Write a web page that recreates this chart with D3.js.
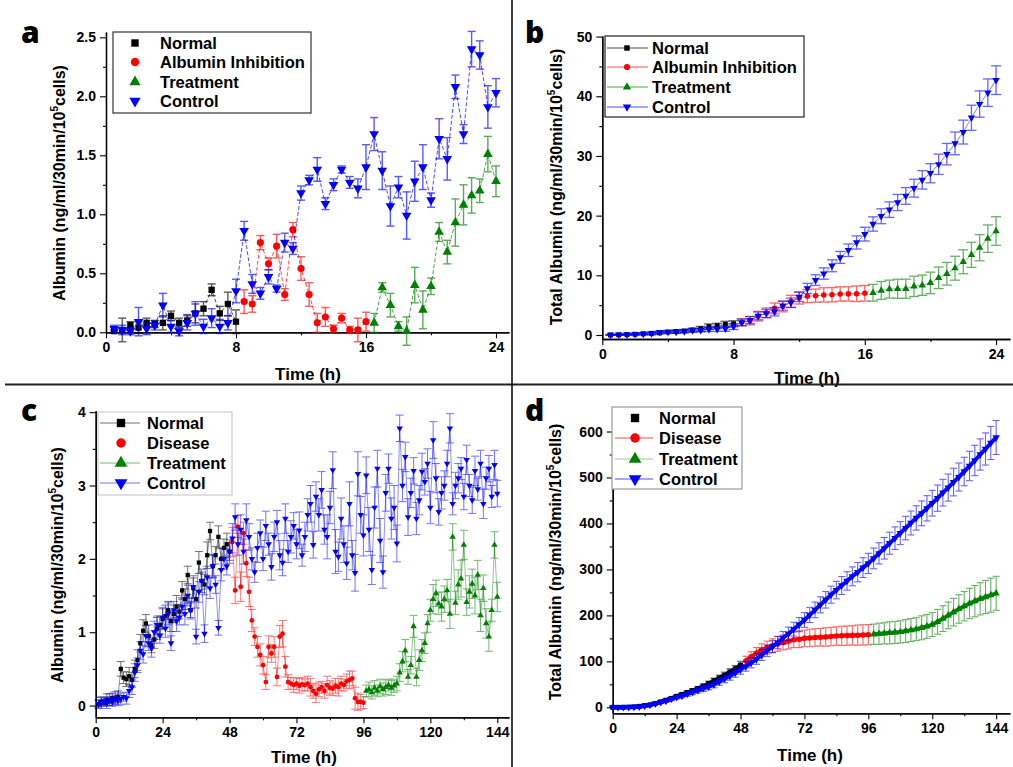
<!DOCTYPE html>
<html>
<head>
<meta charset="utf-8">
<script src="https://cdn.jsdelivr.net/npm/d3@7"></script>
<style>
  body { margin: 0; background: #fff; }
  text { font-family: "Liberation Sans", Arial, sans-serif; font-weight: bold; }
</style>
</head>
<body>
<script>

// ---------- panel a : albumin per 30 min, 0-24 h ----------
var aNormal     = [0.01,0.02,0.06,0.04,0.08,0.07,0.08,0.14,0.08,0.10,0.16,0.20,0.36,0.16,0.24,0.09],
    aNormalErr  = [0.01,0.10,0.03,0.05,0.04,0.03,0.06,0.04,0.04,0.05,0.08,0.06,0.05,0.06,0.10,0.10],
    aInhib      = [0.26,0.24,0.76,0.58,0.73,0.32,0.87,0.54,0.32,0.08,0.13,0.03,0.12,0.02,0.02,0.09],
    aInhibErr   = [0.10,0.07,0.06,0.05,0.10,0.05,0.06,0.10,0.10,0.08,0.08,0.03,0.04,0.03,0.10,0.08],
    aTreat      = [0.08,0.38,0.23,0.05,0.01,0.40,0.19,0.39,0.85,0.68,0.93,1.08,1.16,1.20,1.51,1.28],
    aTreatErr   = [0.08,0.04,0.10,0.04,0.12,0.15,0.16,0.07,0.08,0.10,0.20,0.17,0.15,0.10,0.15,0.13],
    aControl    = [0.03,0.02,0.01,0.09,0.03,0.06,0.23,0.05,0.01,0.08,0.16,0.05,0.12,0.05,0.08,0.35,
                   0.86,0.41,0.33,0.47,0.37,0.76,0.71,1.18,1.29,1.38,1.09,1.25,1.38,1.27,1.22,1.40,
                   1.68,1.37,1.07,1.23,0.99,1.28,1.40,1.12,1.64,1.47,2.08,1.68,2.40,2.35,1.91,2.03],
    aControlErr = [0.03,0.04,0.03,0.12,0.05,0.04,0.10,0.05,0.04,0.06,0.10,0.06,0.08,0.06,0.06,0.10,
                   0.08,0.08,0.05,0.06,0.03,0.08,0.05,0.06,0.04,0.10,0.05,0.05,0.03,0.05,0.08,0.19,
                   0.14,0.16,0.17,0.09,0.20,0.17,0.19,0.06,0.17,0.18,0.10,0.08,0.15,0.12,0.18,0.12];

// ---------- panel b : cumulative albumin, 0-24 h ----------
var bNormal     = [0.01,0.03,0.09,0.13,0.21,0.28,0.36,0.50,0.58,0.68,0.84,1.04,1.40,1.56,1.80,1.89],
    bNormalErr  = [0.05,0.10,0.10,0.15,0.15,0.20,0.20,0.20,0.25,0.25,0.30,0.40,0.45,0.40,0.50,0.50],
    bInhib      = [2.15,2.39,3.15,3.73,4.46,4.78,5.65,6.19,6.51,6.59,6.72,6.75,6.87,6.89,6.91,7.00],
    bInhibErr   = [0.6,0.7,0.8,0.8,0.9,0.9,1.0,1.0,1.1,1.1,1.2,1.2,1.2,1.2,1.3,1.3],
    bTreat      = [7.08,7.46,7.69,7.74,7.75,8.15,8.34,8.73,9.58,10.26,11.19,12.27,13.43,14.63,16.14,17.42],
    bTreatErr   = [1.4,1.5,1.5,1.6,1.6,1.7,1.7,1.8,1.8,1.9,2.0,2.0,2.1,2.2,2.3,2.4],
    bControl    = [0.02,0.04,0.06,0.15,0.18,0.24,0.47,0.52,0.53,0.61,0.77,0.82,0.94,0.99,1.07,1.42,
                   2.1,2.5,3.2,3.6,3.9,4.9,5.4,6.4,7.8,9.2,10.3,11.6,13.0,14.2,15.5,16.9,
                   18.6,19.9,21.0,22.2,23.3,24.6,26.0,27.1,28.6,30.3,32.1,34.0,36.4,38.7,40.6,42.7],
    bControlErr = [0.05,0.05,0.1,0.1,0.15,0.2,0.2,0.2,0.25,0.25,0.3,0.3,0.35,0.4,0.45,0.5,
                   0.55,0.6,0.65,0.7,0.7,0.75,0.8,0.8,0.85,0.9,0.95,1.0,1.0,1.05,1.1,1.15,
                   1.2,1.25,1.3,1.35,1.4,1.5,1.55,1.6,1.7,1.8,1.9,2.0,2.1,2.2,2.3,2.4];

// ---------- panel c : albumin per 30 min, 0-144 h (hourly) ----------
var cNormal     = [0.02,0.05,0.04,0.08,0.06,0.10,0.08,0.12,0.50,0.38,0.36,0.40,0.35,0.50,0.62,0.85,
                   1.02,1.12,0.95,0.82,0.90,1.05,1.10,1.18,1.22,1.30,1.15,1.25,1.35,1.28,1.57,1.45,
                   1.78,1.30,1.60,1.45,1.95,1.70,1.65,2.05,2.38,1.90,2.05,2.30,2.00,2.15,2.20,2.10],
    cNormalErr  = [0.05,0.06,0.05,0.08,0.06,0.07,0.06,0.08,0.10,0.08,0.10,0.12,0.10,0.12,0.14,0.12,
                   0.15,0.12,0.15,0.10,0.12,0.15,0.12,0.14,0.15,0.12,0.14,0.12,0.15,0.10,0.12,0.14,
                   0.12,0.10,0.14,0.12,0.15,0.12,0.14,0.18,0.12,0.15,0.12,0.15,0.14,0.12,0.15,0.12],
    cDisease    = [2.23,1.57,2.44,1.62,2.35,1.94,1.55,1.16,0.94,0.80,0.69,0.55,0.32,0.80,0.71,0.80,
                   0.39,0.94,0.98,0.53,0.32,0.30,0.28,0.30,0.27,0.29,0.28,0.30,0.25,0.20,0.16,0.22,
                   0.25,0.20,0.28,0.24,0.23,0.27,0.25,0.30,0.28,0.33,0.35,0.37,0.10,0.05,0.05,0.04],
    cDiseaseErr = [0.20,0.18,0.15,0.20,0.15,0.18,0.20,0.15,0.12,0.14,0.15,0.12,0.10,0.15,0.12,0.14,
                   0.12,0.15,0.18,0.14,0.10,0.08,0.10,0.08,0.10,0.09,0.08,0.10,0.12,0.10,0.12,0.10,
                   0.08,0.10,0.12,0.10,0.09,0.10,0.12,0.10,0.08,0.10,0.12,0.10,0.15,0.12,0.10,0.08],
    cTreat      = [0.20,0.22,0.18,0.24,0.20,0.26,0.22,0.25,0.28,0.24,0.27,0.30,0.45,0.60,0.75,0.39,
                   0.55,1.08,0.39,0.62,0.75,0.85,1.12,1.30,1.45,1.53,1.39,1.35,1.45,1.57,1.25,2.30,
                   1.40,1.65,1.73,2.19,1.41,1.55,1.66,1.50,1.78,1.23,1.60,1.12,0.94,1.30,2.19,1.48],
    cTreatErr   = [0.08,0.10,0.09,0.10,0.08,0.10,0.09,0.10,0.08,0.10,0.09,0.10,0.12,0.14,0.15,0.10,
                   0.12,0.15,0.12,0.14,0.15,0.14,0.12,0.15,0.20,0.18,0.15,0.20,0.18,0.15,0.20,0.18,
                   0.16,0.20,0.25,0.20,0.18,0.22,0.20,0.25,0.20,0.22,0.18,0.20,0.20,0.15,0.18,0.20],
    cControl    = [0.02,0.04,0.06,0.03,0.08,0.05,0.10,0.07,0.09,0.12,0.10,0.20,0.25,0.45,0.55,0.75,
                   0.70,0.95,0.85,0.78,1.00,1.10,0.95,1.20,1.05,1.25,0.85,1.30,1.15,1.20,1.35,1.25,
                   1.50,1.30,1.62,0.94,1.55,1.70,0.98,1.75,1.60,1.90,1.65,1.06,1.85,2.00,1.90,2.10,
                   2.28,2.57,2.20,2.40,2.10,2.53,2.30,2.00,1.82,2.15,2.35,2.00,2.45,2.20,1.89,2.30,
                   2.50,2.05,1.95,2.55,2.10,2.30,2.45,2.20,2.39,2.05,2.30,2.60,2.75,2.19,2.85,2.60,
                   2.94,2.40,2.30,2.70,3.21,2.10,2.03,2.55,2.20,1.94,2.75,2.05,1.81,3.16,2.60,2.32,
                   3.14,2.40,1.85,2.70,3.23,2.25,1.82,2.90,3.23,2.55,2.70,2.21,3.78,3.00,3.39,2.57,
                   2.90,3.20,2.55,2.80,3.19,3.05,3.30,2.70,3.62,3.10,2.64,2.90,3.00,3.30,3.78,2.75,
                   3.00,3.10,3.23,2.85,3.35,3.00,2.80,3.20,2.95,3.30,2.75,3.10,3.23,2.85,3.28,2.89],
    cControlErr = [0.06,0.08,0.06,0.07,0.08,0.06,0.09,0.07,0.08,0.06,0.08,0.09,0.10,0.12,0.10,0.12,
                   0.12,0.14,0.10,0.12,0.15,0.12,0.10,0.14,0.12,0.15,0.10,0.12,0.14,0.10,0.12,0.15,
                   0.14,0.12,0.15,0.10,0.14,0.16,0.12,0.15,0.14,0.16,0.12,0.10,0.15,0.14,0.12,0.16,
                   0.20,0.18,0.15,0.20,0.17,0.22,0.18,0.15,0.14,0.20,0.18,0.16,0.20,0.15,0.18,0.20,
                   0.16,0.20,0.18,0.20,0.15,0.22,0.18,0.20,0.25,0.15,0.20,0.22,0.25,0.18,0.20,0.22,
                   0.25,0.20,0.30,0.22,0.25,0.30,0.20,0.28,0.25,0.22,0.30,0.20,0.25,0.30,0.25,0.28,
                   0.25,0.30,0.20,0.28,0.25,0.30,0.22,0.25,0.20,0.28,0.30,0.25,0.18,0.22,0.20,0.25,
                   0.20,0.18,0.22,0.20,0.25,0.18,0.20,0.22,0.25,0.20,0.18,0.22,0.20,0.18,0.20,0.15,
                   0.18,0.20,0.15,0.18,0.20,0.15,0.18,0.20,0.15,0.18,0.20,0.15,0.18,0.15,0.20,0.18];

// ---------- panel d : cumulative albumin, 0-144 h (every 2 h) ----------
var dNormal     = [0,0.1,0.3,0.6,1.0,2.2,3.8,5.6,8.5,12,15.5,19.5,24,28,32,36.5,41,46,52,58,64,70,77,84,92],
    dNormalErr  = [0,0.1,0.2,0.3,0.5,0.8,1,1.2,1.5,2,2.5,3,3,3.5,4,4,4.5,5,5,5.5,6,6.5,7,7,8],
    dDisease    = [101,110,118,125,130,134,138,141,144,147,148,150,151,152,152.5,153,154,155,155.5,156,156.5,157,157.5,158],
    dDiseaseErr = [10,11,12,13,14,15,16,16,17,17,18,18,19,19,19,20,20,20,21,21,21,22,22,22],
    dTreat      = [159,160,161,162,163,164,166,168,170,173,176,180,186,193,200,207,214,220,226,231,236,240,244,248],
    dTreatErr   = [22,23,23,24,24,24,25,25,25,26,26,26,27,28,29,30,31,32,33,34,35,36,37,37],
    dControl    = [0,0.1,0.3,0.5,0.8,1.5,3,5,8,11,14,18,
                   22,25,29,33,37,41,45,50,56,62,68,75,
                   82,89,97,105,114,123,132,141,151,160,170,180,
                   190,201,212,223,234,245,255,265,275,285,294,304,
                   313,324,335,346,357,368,379,390,401,412,422,433,
                   444,455,467,478,490,501,513,525,537,550,562,575,587],
    dControlErr = [0,0.1,0.2,0.3,0.4,0.6,1,1.5,2,2.5,3,3.5,
                   4,4.5,5,5.5,6,6.5,7,7.5,8,8.5,9,9.5,
                   10,10.5,11,11.5,12,12.5,13,13.5,14,14.5,15,15.5,
                   16,16.5,17,17.5,18,18.5,19,19.5,20,20.5,21,21.5,
                   22,22.5,23,23.5,24,24.5,25,25.5,26,26.5,27,27.5,
                   28,28.5,29,29.5,30,30.5,31,32,33,34,35,36,37];

var labelsAB = ["Normal", "Albumin Inhibition", "Treatment", "Control"],
    labelsCD = ["Normal", "Disease", "Treatment", "Control"],
    colors   = ["#000000", "#ff0000", "#008000", "#0000ff"];


var svg = d3.select("body").append("svg")
            .attr("width", 1013)
            .attr("height", 767);


var symTypes = [d3.symbolSquare, d3.symbolCircle, d3.symbolTriangle, d3.symbolTriangle];

function marker(sel, k, size) {
    sel.attr("d", d3.symbol().type(symTypes[k]).size(size)());
}


function panel(p) {

    var g = svg.append("g"),
        x = d3.scaleLinear().domain(p.xDom).range(p.xRange),
        y = d3.scaleLinear().domain(p.yDom).range(p.yRange);

    // minor ticks
    g.append("g")
        .attr("transform", "translate(0," + p.yRange[0] + ")")
        .call(d3.axisBottom(x).tickValues(p.xMinor).tickSize(3).tickSizeOuter(0).tickFormat(""));
    g.append("g")
        .attr("transform", "translate(" + p.xRange[0] + ",0)")
        .call(d3.axisLeft(y).tickValues(p.yMinor).tickSize(3).tickSizeOuter(0).tickFormat(""));

    // major ticks + labels
    var xa = g.append("g")
        .attr("transform", "translate(0," + p.yRange[0] + ")")
        .call(d3.axisBottom(x).tickValues(p.xMajor).tickSize(6).tickSizeOuter(0).tickPadding(4).tickFormat(d3.format("d")));
    var ya = g.append("g")
        .attr("transform", "translate(" + p.xRange[0] + ",0)")
        .call(d3.axisLeft(y).tickValues(p.yMajor).tickSize(6).tickSizeOuter(0).tickPadding(4).tickFormat(p.yFmt));

    g.selectAll(".domain").attr("stroke", "#000").attr("stroke-width", 1.3);
    g.selectAll(".tick line").attr("stroke", "#000").attr("stroke-width", 1.1);
    g.selectAll(".tick text").attr("font-size", 14).attr("fill", "#000")
        .style("font-family", "'Liberation Sans', Arial").style("font-weight", "bold");

    // axis titles
    g.append("text")
        .attr("x", p.xTitle[0]).attr("y", p.xTitle[1])
        .attr("text-anchor", "middle").attr("font-size", 17)
        .text("Time (h)");

    var yt = g.append("text")
        .attr("transform", "translate(" + p.yTitle[0] + "," + p.yTitle[1] + ") rotate(-90)")
        .attr("text-anchor", "middle").attr("font-size", 16);
    yt.append("tspan").text(p.yText + " (ng/ml/30min/10");
    yt.append("tspan").attr("dy", -7).attr("font-size", 10).text("5");
    yt.append("tspan").attr("dy", 7).text("cells)");

    // panel letter
    g.append("text")
        .attr("x", p.letter[1]).attr("y", p.letter[2])
        .attr("font-size", 30)
        .style("font-family", "'Open Sans', 'DejaVu Sans', sans-serif")
        .style("font-weight", 800)
        .text(p.letter[0]);

    // series
    p.series.forEach(function (s, k) {

        var pts = s.v.map(function (v, i) {
            return { t: s.t[i], v: v, e: s.e[i] || 0 };
        });

        var sg = g.append("g");

        var eb = sg.append("g")
            .attr("stroke", colors[k])
            .attr("stroke-width", p.ebWidth)
            .attr("opacity", p.ebOpacity)
            .selectAll("g").data(pts).join("g");

        eb.append("line")
            .attr("x1", function (d) { return x(d.t); })
            .attr("x2", function (d) { return x(d.t); })
            .attr("y1", function (d) { return y(d.v - d.e); })
            .attr("y2", function (d) { return y(d.v + d.e); });
        eb.append("line")
            .attr("x1", function (d) { return x(d.t) - p.cap; })
            .attr("x2", function (d) { return x(d.t) + p.cap; })
            .attr("y1", function (d) { return y(d.v + d.e); })
            .attr("y2", function (d) { return y(d.v + d.e); });
        eb.append("line")
            .attr("x1", function (d) { return x(d.t) - p.cap; })
            .attr("x2", function (d) { return x(d.t) + p.cap; })
            .attr("y1", function (d) { return y(d.v - d.e); })
            .attr("y2", function (d) { return y(d.v - d.e); });

        sg.append("path")
            .datum(pts)
            .attr("fill", "none")
            .attr("stroke", colors[k])
            .attr("stroke-width", p.lineWidth)
            .attr("stroke-opacity", p.lineOpacity)
            .attr("stroke-dasharray", p.dash)
            .attr("d", d3.line()
                .x(function (d) { return x(d.t); })
                .y(function (d) { return y(d.v); }));

        sg.selectAll("path.m").data(pts).join("path")
            .attr("class", "m")
            .attr("fill", colors[k])
            .attr("transform", function (d) {
                return "translate(" + x(d.t) + "," + y(d.v) + ")" + (k === 3 ? " rotate(180)" : "");
            })
            .call(marker, k, p.mSize);
    });

    // legend
    var L = p.legend;
    g.append("rect")
        .attr("x", L.box[0]).attr("y", L.box[1])
        .attr("width", L.box[2]).attr("height", L.box[3])
        .attr("fill", "#fff").attr("stroke", L.stroke).attr("stroke-width", 1.2);

    L.labels.forEach(function (lab, k) {
        var cy = L.rows[k];
        if (L.lines[k]) {
            g.append("line")
                .attr("x1", L.line[0]).attr("x2", L.line[1])
                .attr("y1", cy).attr("y2", cy)
                .attr("stroke", colors[k]).attr("stroke-width", L.lines[k])
                .attr("stroke-opacity", 0.7);
        }
        g.append("path")
            .attr("fill", colors[k])
            .attr("transform", "translate(" + L.sym + "," + cy + ")" + (k === 3 ? " rotate(180)" : ""))
            .call(marker, k, L.symSize);
        g.append("text")
            .attr("x", L.text).attr("y", cy + 6)
            .attr("font-size", 16.5)
            .text(lab);
    });
}


var halfA1 = d3.range(0.5, 8.01, 0.5),
    halfA2 = d3.range(8.5, 16.01, 0.5),
    halfA3 = d3.range(16.5, 24.01, 0.5),
    halfAll = d3.range(0.5, 24.01, 0.5),
    hrC1 = d3.range(1, 49),
    hrC2 = d3.range(49, 97),
    hrC3 = d3.range(97, 145),
    hrAll = d3.range(1, 145),
    d2h1 = d3.range(0, 49, 2),
    d2h2 = d3.range(50, 97, 2),
    d2h3 = d3.range(98, 145, 2),
    d2hAll = d3.range(0, 145, 2);


// a
panel({
    xDom: [0, 24.8], xRange: [106, 509],
    yDom: [0, 2.545], yRange: [332.3, 32],
    xMajor: [0, 8, 16, 24], xMinor: [4, 12, 20],
    yMajor: [0, 0.5, 1, 1.5, 2, 2.5], yMinor: [0.25, 0.75, 1.25, 1.75, 2.25],
    yFmt: d3.format(".1f"),
    xTitle: [308, 380], yTitle: [65, 183], yText: "Albumin",
    letter: ["a", 21, 43],
    series: [
        { t: halfA1, v: aNormal, e: aNormalErr },
        { t: halfA2, v: aInhib, e: aInhibErr },
        { t: halfA3, v: aTreat, e: aTreatErr },
        { t: halfAll, v: aControl, e: aControlErr }
    ],
    ebWidth: 1.4, ebOpacity: 0.65, cap: 4,
    lineWidth: 1, lineOpacity: 0.7, dash: "4,2", mSize: 40,
    legend: {
        box: [113, 32, 198, 81], stroke: "#333",
        rows: [43, 62, 82, 101], line: [0, 0], lines: [0, 0, 0, 0],
        sym: 135, symSize: 55, text: 160, labels: labelsAB
    }
});

// b
panel({
    xDom: [0, 24.85], xRange: [602.3, 1010],
    yDom: [-0.67, 50.1], yRange: [339, 36],
    xMajor: [0, 8, 16, 24], xMinor: [4, 12, 20],
    yMajor: [0, 10, 20, 30, 40, 50], yMinor: [5, 15, 25, 35, 45],
    yFmt: d3.format("d"),
    xTitle: [807, 384], yTitle: [562, 187], yText: "Total Albumin",
    letter: ["b", 525, 43],
    series: [
        { t: halfA1, v: bNormal, e: bNormalErr },
        { t: halfA2, v: bInhib, e: bInhibErr },
        { t: halfA3, v: bTreat, e: bTreatErr },
        { t: halfAll, v: bControl, e: bControlErr }
    ],
    ebWidth: 1.3, ebOpacity: 0.6, cap: 5,
    lineWidth: 1, lineOpacity: 0.5, dash: null, mSize: 24,
    legend: {
        box: [605, 36, 199, 81], stroke: "#222",
        rows: [48, 67, 87, 107], line: [607, 648], lines: [1, 1, 1, 1],
        sym: 627, symSize: 30, text: 652, labels: labelsAB
    }
});

// c
panel({
    xDom: [0, 148.2], xRange: [95.7, 509],
    yDom: [-0.16, 4.02], yRange: [717.3, 410.7],
    xMajor: [0, 24, 48, 72, 96, 120, 144], xMinor: [12, 36, 60, 84, 108, 132],
    yMajor: [0, 1, 2, 3, 4], yMinor: [0.5, 1.5, 2.5, 3.5],
    yFmt: d3.format("d"),
    xTitle: [304, 763], yTitle: [63, 565], yText: "Albumin",
    letter: ["c", 21, 421],
    series: [
        { t: hrC1, v: cNormal, e: cNormalErr },
        { t: hrC2, v: cDisease, e: cDiseaseErr },
        { t: hrC3, v: cTreat, e: cTreatErr },
        { t: hrAll, v: cControl, e: cControlErr }
    ],
    ebWidth: 1, ebOpacity: 0.55, cap: 4,
    lineWidth: 0.8, lineOpacity: 0.55, dash: null, mSize: 18,
    legend: {
        box: [98, 412, 134, 83], stroke: "#ccc",
        rows: [423, 443, 463, 483], line: [100, 140], lines: [0.8, 0, 0.8, 0.8],
        sym: 121, symSize: 70, text: 147, labels: labelsCD
    }
});

// d
panel({
    xDom: [0, 149.2], xRange: [612.7, 1010],
    yDom: [-13, 654], yRange: [713.3, 406.7],
    xMajor: [0, 24, 48, 72, 96, 120, 144], xMinor: [12, 36, 60, 84, 108, 132],
    yMajor: [0, 100, 200, 300, 400, 500, 600], yMinor: [50, 150, 250, 350, 450, 550],
    yFmt: d3.format("d"),
    xTitle: [810, 761], yTitle: [561, 562], yText: "Total Albumin",
    letter: ["d", 525, 421],
    series: [
        { t: d2h1, v: dNormal, e: dNormalErr },
        { t: d2h2, v: dDisease, e: dDiseaseErr },
        { t: d2h3, v: dTreat, e: dTreatErr },
        { t: d2hAll, v: dControl, e: dControlErr }
    ],
    ebWidth: 1.1, ebOpacity: 0.6, cap: 3.5,
    lineWidth: 4, lineOpacity: 0.95, dash: null, mSize: 24,
    legend: {
        box: [612, 407, 130, 82], stroke: "#999",
        rows: [418, 438, 459, 479], line: [615, 653], lines: [0, 1.2, 0.6, 1],
        sym: 635, symSize: 70, text: 659, labels: labelsCD
    }
});


// panel separators
svg.append("line")
    .attr("x1", 5).attr("x2", 1013).attr("y1", 384.5).attr("y2", 384.5)
    .attr("stroke", "#222").attr("stroke-width", 2);
svg.append("line")
    .attr("x1", 512).attr("x2", 512).attr("y1", 0).attr("y2", 767)
    .attr("stroke", "#000").attr("stroke-width", 1.5);

</script>
</body>
</html>
